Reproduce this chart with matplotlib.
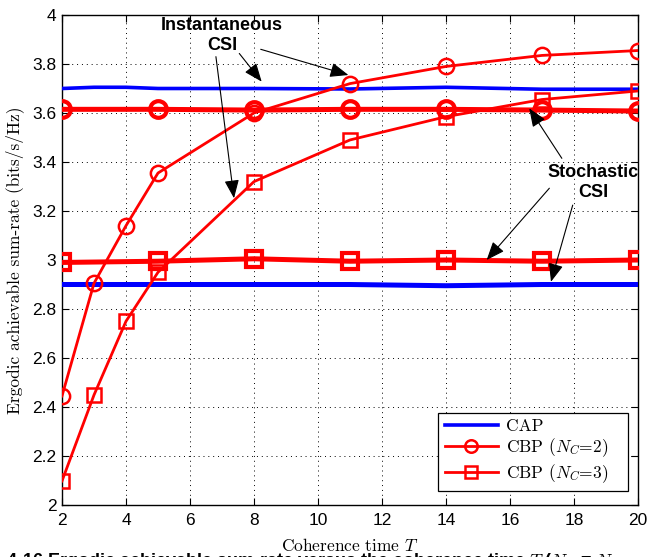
import matplotlib
matplotlib.use("Agg")
import matplotlib.pyplot as plt
from matplotlib.lines import Line2D

# Coherence time samples
T_full = [2, 3, 4, 5, 8, 11, 14, 17, 20]
T_coarse = [2, 5, 8, 11, 14, 17, 20]

# Ergodic sum-rate (bits/s/Hz)
cap_inst = [3.700, 3.705, 3.705, 3.700, 3.700, 3.698, 3.705, 3.697, 3.697]
cap_stoch = [2.900, 2.900, 2.900, 2.900, 2.900, 2.900, 2.895, 2.900, 2.900]
cbp2_inst = [2.445, 2.905, 3.140, 3.355, 3.600, 3.720, 3.790, 3.835, 3.855]
cbp3_inst = [2.098, 2.449, 2.750, 2.950, 3.320, 3.490, 3.585, 3.655, 3.690]
cbp2_stoch = [3.615, 3.615, 3.612, 3.615, 3.615, 3.612, 3.608]
cbp3_stoch = [2.990, 2.995, 3.005, 2.995, 3.000, 2.995, 3.000]

x_ticks = list(range(2, 21, 2))
y_ticks = [2.0, 2.2, 2.4, 2.6, 2.8, 3.0, 3.2, 3.4, 3.6, 3.8, 4.0]
y_tick_labels = ["2", "2.2", "2.4", "2.6", "2.8", "3", "3.2", "3.4", "3.6", "3.8", "4"]

plt.rcParams["mathtext.fontset"] = "cm"
plt.rcParams["axes.formatter.use_mathtext"] = True

fig = plt.figure(figsize=(6.48, 5.57), dpi=100)
ax = fig.add_axes([62 / 648, 1 - 505 / 557, 576 / 648, 490 / 557])

BLUE = "#0000ff"
RED = "#ff0000"

# stochastic-CSI curves (thick)
ax.plot(T_full, cap_stoch, color=BLUE, lw=3.6, zorder=3)
ax.plot(T_coarse, cbp2_stoch, color=RED, lw=3.6, marker="o", ms=12,
        mfc="none", mew=3.0, zorder=3)
ax.plot(T_coarse, cbp3_stoch, color=RED, lw=3.6, marker="s", ms=11,
        mfc="none", mew=3.0, zorder=3)

# instantaneous-CSI curves
ax.plot(T_full, cap_inst, color=BLUE, lw=2.6, zorder=4)
ax.plot(T_full, cbp2_inst, color=RED, lw=2.0, marker="o", ms=11,
        mfc="none", mew=1.8, zorder=4)
ax.plot(T_full, cbp3_inst, color=RED, lw=2.0, marker="s", ms=9.5,
        mfc="none", mew=1.8, zorder=4)

ax.set_xlim(2, 20)
ax.set_ylim(2, 4)
ax.set_xticks(x_ticks)
ax.set_xticklabels([str(v) for v in x_ticks])
ax.set_yticks(y_ticks)
ax.set_yticklabels(y_tick_labels)

for lab in ax.get_xticklabels() + ax.get_yticklabels():
    lab.set_fontfamily("Liberation Sans")
    lab.set_fontsize(12.5)

ax.tick_params(direction="in", top=True, right=True, length=5, width=0.8,
               pad=6, colors="k")
ax.tick_params(axis="y", pad=4)
for sp in ax.spines.values():
    sp.set_linewidth(1.0)
    sp.set_color("k")

ax.grid(True, color="k", linestyle=(0, (1, 4)), lw=0.7)
ax.set_axisbelow(True)

ax.set_xlabel("Coherence time $T$", family="cmr10", fontsize=12.5, labelpad=6)
ax.set_ylabel("Ergodic achievable sum-rate (bits/s/Hz)", family="cmr10",
              fontsize=12.5, labelpad=6)

# annotations
arrow = dict(arrowstyle="-|>,head_length=0.75,head_width=0.3",
             mutation_scale=15, lw=0.8, color="k", shrinkA=0, shrinkB=0)
note_font = dict(family="Liberation Sans", fontsize=13, fontweight="bold",
                 ha="center", va="center", linespacing=1.25)

ax.text(7.0, 3.916, "Instantaneous\nCSI", zorder=6, **note_font)
ax.annotate("", xy=(8.24, 3.728), xytext=(7.54, 3.843), arrowprops=arrow, zorder=6)
ax.annotate("", xy=(10.95, 3.755), xytext=(8.21, 3.860), arrowprops=arrow, zorder=6)
ax.annotate("", xy=(7.375, 3.252), xytext=(6.81, 3.830), arrowprops=arrow, zorder=6)

ax.text(18.6, 3.316, "Stochastic\nCSI", zorder=6, **note_font)
ax.annotate("", xy=(16.60, 3.619), xytext=(17.62, 3.415), arrowprops=arrow, zorder=6)
ax.annotate("", xy=(15.27, 3.000), xytext=(17.23, 3.293), arrowprops=arrow, zorder=6)
ax.annotate("", xy=(17.28, 2.911), xytext=(17.96, 3.224), arrowprops=arrow, zorder=6)

# legend
handles = [
    Line2D([], [], color=BLUE, lw=2.6),
    Line2D([], [], color=RED, lw=2.0, marker="o", ms=9, mfc="none", mew=1.8),
    Line2D([], [], color=RED, lw=2.0, marker="s", ms=8, mfc="none", mew=1.8),
]
labels = ["CAP", "CBP ($N_C$=2)   ", "CBP ($N_C$=3)   "]
leg = ax.legend(handles, labels, loc="lower right",
                bbox_to_anchor=(0.982, 0.029), borderaxespad=0,
                fancybox=False, framealpha=1, edgecolor="k",
                borderpad=0.35, handlelength=3.1, handletextpad=0.45,
                labelspacing=0.15,
                prop={"family": "cmr10", "size": 12.5})
leg.get_frame().set_linewidth(0.9)
leg.set_zorder(7)

# caption (cut at the lower edge)
fig.text(-30 / 648, 1 - 551 / 557,
         "Fig. 4.16 Ergodic achievable sum-rate versus the coherence time $T$ ($N_C$ = $N$",
         family="Liberation Sans", fontsize=13, fontweight="bold",
         ha="left", va="top")

fig.savefig("out.png", dpi=100)
